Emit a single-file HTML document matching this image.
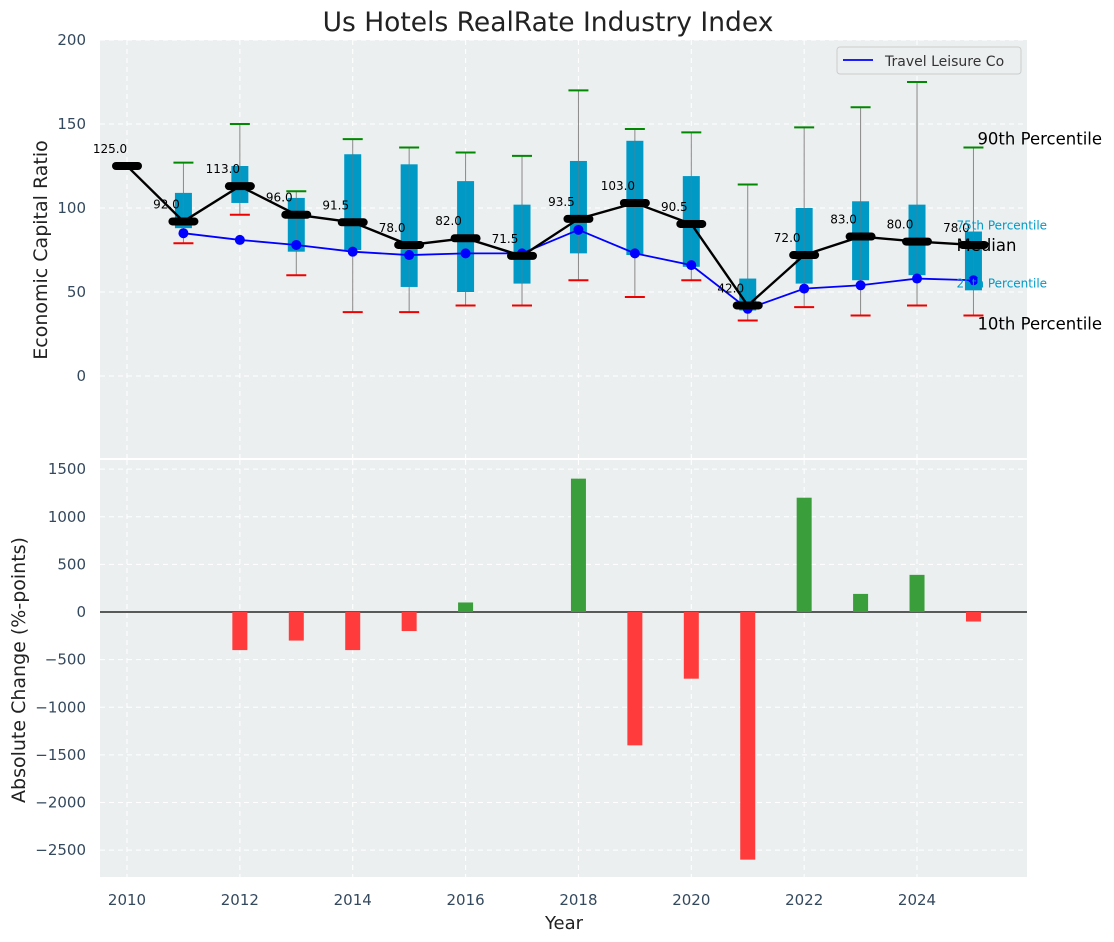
<!DOCTYPE html>
<html><head><meta charset="utf-8"><style>
body{margin:0;background:#fff;}
svg{display:block;font-family:"DejaVu Sans","Liberation Sans",sans-serif;}
</style></head><body>
<svg id="c" width="1114" height="942"></svg>
<script>
const years=[2010,2011,2012,2013,2014,2015,2016,2017,2018,2019,2020,2021,2022,2023,2024,2025];
const medians=[125,92,113,96,91.5,78,82,71.5,93.5,103,90.5,42,72,83,80,78];
const p10=[null,79,96,60,38,38,42,42,57,47,57,33,41,36,42,36];
const p25=[null,88,103,74,75,53,50,55,73,72,65,39,55,57,60,51];
const p75=[null,109,125,106,132,126,116,102,128,140,119,58,100,104,102,86];
const p90=[null,127,150,110,141,136,133,131,170,147,145,114,148,160,175,136];
const company=[null,85,81,78,74,72,73,73,87,73,66,40,52,54,58,57];
const changes=[null,null,-400,-300,-400,-200,100,0,1400,-1400,-700,-2600,1200,190,390,-100];
const yTicksTop=[0,50,100,150,200];
const yTicksBot=[-2500,-2000,-1500,-1000,-500,0,500,1000,1500];
const xTicks=[2010,2012,2014,2016,2018,2020,2022,2024];

const svg=document.getElementById('c');const NS='http://www.w3.org/2000/svg';
function el(t,a,p){const e=document.createElementNS(NS,t);for(const k in a)e.setAttribute(k,a[k]);(p||svg).appendChild(e);return e;}
const L=100,R=1027,T1=40,B1=458,T2=460,B2=877;
const x=v=>127+(v-2010)*56.43;
const y1=v=>376-v*1.68;
const y2=v=>612-v*0.09525;
const fmt=v=>v<0?'\u2212'+Math.abs(v):String(v);

let bg=el('rect',{x:L,y:T1,width:R-L,height:B1-T1,fill:'#eceff0'});

let bg2=el('rect',{x:L,y:T2,width:R-L,height:B2-T2,fill:'#eceff0'});

xTicks.forEach(t=>{
  el('line',{x1:x(t),x2:x(t),y1:T1,y2:B1,stroke:'#fff','stroke-dasharray':'5,4','stroke-width':1});
  el('line',{x1:x(t),x2:x(t),y1:T2,y2:B2,stroke:'#fff','stroke-dasharray':'5,4','stroke-width':1});
  const tx=el('text',{x:x(t),y:905,'font-size':15,fill:'#34495e','text-anchor':'middle'});tx.textContent=t;
  
});
yTicksTop.forEach(t=>{
  el('line',{x1:L,x2:R,y1:y1(t),y2:y1(t),stroke:'#fff','stroke-dasharray':'5,4'});
  const tx=el('text',{x:86,y:y1(t)+5,'font-size':15,fill:'#34495e','text-anchor':'end'});tx.textContent=fmt(t);
  
});
yTicksBot.forEach(t=>{
  el('line',{x1:L,x2:R,y1:y2(t),y2:y2(t),stroke:'#fff','stroke-dasharray':'5,4'});
  const tx=el('text',{x:86,y:y2(t)+5,'font-size':15,fill:'#34495e','text-anchor':'end'});tx.textContent=fmt(t);
  
});
years.forEach((yr,i)=>{
  if(p10[i]==null)return;
  const cx=x(yr);
  let w=el('line',{x1:cx,x2:cx,y1:y1(p10[i]),y2:y1(p90[i]),stroke:'#888','stroke-width':1});
  
  let b=el('rect',{x:cx-8.5,y:y1(p75[i]),width:17,height:y1(p25[i])-y1(p75[i]),fill:'#0099c6'});
  
  el('line',{x1:cx,x2:cx,y1:y1(p75[i]),y2:y1(p25[i]),stroke:'#5a7f8a','stroke-width':1,opacity:0.6});
  let c1=el('line',{x1:cx-10,x2:cx+10,y1:y1(p10[i]),y2:y1(p10[i]),stroke:'#e00','stroke-width':2});
  
  let c2=el('line',{x1:cx-10,x2:cx+10,y1:y1(p90[i]),y2:y1(p90[i]),stroke:'#080','stroke-width':2});
  
});
let cp=years.map((yr,i)=>company[i]==null?null:x(yr)+','+y1(company[i])).filter(Boolean).join(' ');
let cl=el('polyline',{points:cp,fill:'none',stroke:'#0000ff','stroke-width':1.8});

years.forEach((yr,i)=>{if(company[i]==null)return;
  let d=el('circle',{cx:x(yr),cy:y1(company[i]),r:5,fill:'#0000ff'});
  });
let ml=el('polyline',{points:years.map((yr,i)=>x(yr)+','+y1(medians[i])).join(' '),fill:'none',stroke:'#000','stroke-width':2.4});

years.forEach((yr,i)=>{
  let m=el('line',{x1:x(yr)-11,x2:x(yr)+11,y1:y1(medians[i]),y2:y1(medians[i]),stroke:'#000','stroke-width':8,'stroke-linecap':'round'});
  
  let t=el('text',{x:x(yr)-17,y:y1(medians[i])-13,'font-size':12,fill:'#000','text-anchor':'middle'});
  t.textContent=medians[i].toFixed(1);
  
});
const last=years.length-1,lx=x(years[last]);
[['90th Percentile',p90[last],16.5,'#000',lx+4,-3],['10th Percentile',p10[last],16.5,'#000',lx+4,14],['Median',medians[last],16.5,'#000',lx-17,6],['75th Percentile',p75[last],12,'#0099c6',lx-17,-2],['25th Percentile',p25[last],12,'#0099c6',lx-17,-3]].forEach(a=>{
  let t=el('text',{x:a[4],y:y1(a[1])+a[5],'font-size':a[2],fill:a[3]});t.textContent=a[0];
  
});
let lg=el('g',{});
el('rect',{x:837,y:47,width:184,height:27,fill:'#eceff0',stroke:'#ccc',rx:3},lg);
el('line',{x1:843,x2:873,y1:60,y2:60,stroke:'#0000ff','stroke-width':1.8},lg);
let lt=el('text',{x:885,y:66,'font-size':14,fill:'#333'},lg);lt.textContent='Travel Leisure Co';
el('line',{x1:L,x2:R,y1:y2(0),y2:y2(0),stroke:'#000','stroke-width':1.2});
years.forEach((yr,i)=>{
  const v=changes[i];if(v==null||v===0)return;
  let r=el('rect',{x:x(yr)-7.5,y:Math.min(y2(v),y2(0)),width:15,height:Math.abs(y2(v)-y2(0)),fill:v>0?'#3a9e3a':'#ff3b3b'});
  
});
let ti=el('text',{x:548,y:31,'font-size':26.5,fill:'#222','text-anchor':'middle'});ti.textContent='Us Hotels RealRate Industry Index';

let xt=el('text',{x:564,y:929,'font-size':18,fill:'#222','text-anchor':'middle'});xt.textContent='Year';

let yt1=el('text',{x:0,y:0,'font-size':19,fill:'#222','text-anchor':'middle',transform:'translate(47,250) rotate(-90)'});yt1.textContent='Economic Capital Ratio';

let yt2=el('text',{x:0,y:0,'font-size':19,fill:'#222','text-anchor':'middle',transform:'translate(25,670) rotate(-90)'});yt2.textContent='Absolute Change (%-points)';

</script>
</body></html>
